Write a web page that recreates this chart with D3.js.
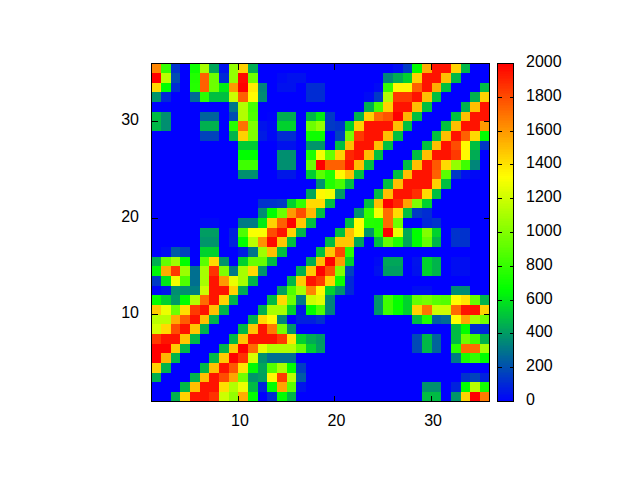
<!DOCTYPE html>
<html>
<head>
<meta charset="utf-8">
<style>html,body{margin:0;padding:0;background:#fff}svg{display:block}text{font-family:"Liberation Sans",Arial,sans-serif;font-size:16px;fill:#000}</style>
<script src="https://cdn.jsdelivr.net/npm/d3@7"></script>
</head>
<body>
<svg id="chart" width="640" height="480"></svg>
<script>
const xTicks = [10, 20, 30];
const yTicks = [10, 20, 30];
const colorTicks = [0, 200, 400, 600, 800, 1000, 1200, 1400, 1600, 1800, 2000];
const paletteStops = [0, 667, 1333, 2000];
const paletteColors = ["#0000ff", "#00ff00", "#ffff00", "#ff0000"];
// rows listed from the top of the map (y 35-36) to the bottom (y 1-2)
const rows = [
[1650,800,130,0,700,1100,435,45,1050,1450,450,0,0,0,0,0,0,0,0,0,0,0,0,0,0,35,150,667,1550,1950,1950,1450,480,0,0],
[2000,1150,200,0,750,1750,950,105,1050,1980,950,0,0,25,45,45,0,0,0,0,0,0,0,0,350,450,550,1450,1950,1950,1500,480,0,0,0],
[1430,667,115,0,760,1750,950,620,1600,2000,1380,350,0,45,45,0,115,115,0,0,0,0,0,25,800,1350,1350,1750,1950,1550,500,0,0,0,490],
[390,105,0,0,280,780,500,500,1200,1750,1340,365,0,0,0,0,115,115,0,0,0,0,25,150,1130,1850,1850,1950,1500,500,0,0,0,460,1450],
[0,0,0,0,0,0,0,0,305,1130,850,0,0,0,0,0,0,0,0,0,0,0,460,850,1450,1950,1950,1500,500,0,0,0,460,1500,1950],
[490,375,0,0,0,260,260,0,200,1130,870,0,10,450,450,0,470,620,150,0,0,470,1450,1720,1780,2000,1530,500,0,0,0,500,1500,1950,1950],
[480,375,0,0,0,460,460,0,760,1700,1000,50,25,550,550,0,950,1050,150,130,550,1450,1950,1950,1950,1500,500,0,0,0,500,1500,1950,1950,1600],
[0,0,0,0,0,175,175,0,470,1450,1000,70,20,115,115,0,700,700,0,175,970,1850,1950,1950,1500,500,0,0,0,500,1500,1950,1750,1430,667],
[0,0,0,0,0,0,0,0,0,530,530,0,0,45,45,0,390,390,0,500,1500,1950,1950,1500,500,0,0,0,500,1500,1950,1800,1350,500,150],
[0,0,0,0,0,0,0,0,0,667,667,0,0,375,375,0,740,1300,930,1450,1900,1950,1500,500,0,0,0,500,1500,1950,1950,1850,1350,450,0],
[0,0,0,0,0,0,0,0,0,830,830,0,0,375,375,0,950,2000,1750,1750,1950,1500,500,0,0,0,500,1500,1950,1770,1430,1050,830,350,0],
[0,0,0,0,0,0,0,0,0,380,380,0,0,60,60,0,535,900,750,1350,1500,500,0,0,0,500,1500,1950,1950,1750,900,150,45,20,0],
[0,0,0,0,0,0,0,0,0,0,0,0,0,0,0,0,0,380,750,850,500,0,0,0,500,1500,1950,1950,1950,1450,500,0,0,0,0],
[0,0,0,0,0,0,0,0,0,0,0,0,0,0,0,0,435,1350,1300,410,0,0,0,500,1500,1950,1950,1880,1430,500,0,0,0,0,0],
[0,0,0,0,0,0,0,0,0,0,0,130,130,150,550,800,1430,1430,500,0,0,0,500,1500,2000,1900,1580,1000,550,0,0,0,0,0,0],
[0,0,0,0,0,0,0,0,0,0,0,365,667,950,1600,1800,1520,500,0,0,0,390,800,1300,1720,1430,500,150,115,0,0,0,0,0,0],
[0,0,0,0,0,20,20,0,0,320,320,620,1450,1750,2000,1480,500,0,0,0,500,1330,760,750,1720,950,0,0,105,130,0,0,0,0,0],
[0,0,0,0,0,410,410,0,80,870,1320,1320,1800,1950,1450,470,0,0,0,500,1500,1330,390,770,2000,1280,445,667,1000,550,0,130,130,0,0],
[0,0,0,0,0,390,390,0,90,667,1150,1620,1980,1480,500,0,0,0,490,1480,1480,435,0,500,930,750,435,667,930,470,0,130,130,0,0],
[0,35,235,175,0,550,550,0,0,70,305,1080,1500,500,0,0,0,500,1480,1820,780,0,0,0,0,0,0,0,0,0,0,0,0,0,0],
[460,930,1080,667,0,900,1430,390,0,550,930,930,490,0,0,0,450,1500,2000,1600,550,0,0,25,435,435,0,50,550,470,0,35,35,0,0],
[655,1550,1850,1070,290,1100,1870,1000,320,1100,1430,390,0,0,0,460,1470,2000,1800,1000,175,0,0,45,410,410,0,45,550,470,0,35,35,0,0],
[150,600,1300,870,290,1100,1950,1600,1280,1100,470,0,0,0,480,1470,1950,1850,1450,700,105,0,0,0,0,0,0,0,0,0,0,0,0,0,0],
[10,50,375,375,330,1200,1950,1950,1450,445,0,0,0,420,870,1100,1650,1350,550,380,105,0,0,0,0,0,0,35,35,0,0,365,365,0,0],
[680,550,400,667,1130,1720,1950,1450,470,0,0,0,490,1430,950,320,1200,1250,340,0,0,0,0,390,830,680,550,930,970,900,880,1330,1400,930,470],
[1470,1280,950,1420,1850,1950,1500,470,0,0,0,460,1100,1100,550,60,667,870,340,0,0,0,0,390,830,680,550,1450,1700,1200,1200,1720,1950,1950,1450],
[1150,1150,1550,1760,1950,1500,470,0,0,0,460,1430,1340,350,0,80,80,125,0,0,0,0,0,0,0,0,0,490,750,245,280,1330,1570,1100,970],
[1220,1430,1800,1950,1480,460,0,0,0,480,1480,1950,1680,970,390,0,0,0,0,0,0,0,0,0,0,0,0,0,0,0,0,490,667,115,90],
[1850,1950,1950,1480,480,0,0,0,480,1480,1950,1950,1950,1850,1400,550,450,400,0,0,0,0,0,0,0,0,0,190,480,260,0,490,950,830,470],
[2000,2000,1470,480,0,0,0,470,1470,2000,1720,1270,1130,1130,1130,930,535,410,0,0,0,0,0,0,0,0,0,190,480,260,0,770,1720,1720,1100],
[2000,1530,470,0,0,0,480,1470,2000,1870,1230,380,290,290,290,0,0,0,0,0,0,0,0,0,0,0,0,0,0,0,0,320,730,800,667],
[1450,470,0,0,0,480,1500,1950,1770,1400,655,435,880,1100,667,160,0,0,0,0,0,0,0,0,0,0,0,0,0,0,0,0,0,0,0],
[460,0,0,0,470,1500,1950,1800,1570,960,390,420,1350,1850,1150,235,0,0,0,0,0,0,0,0,0,0,0,0,0,0,0,0,130,175,90],
[0,0,0,480,1500,1950,1950,1420,1130,1280,490,90,667,1570,900,50,0,0,0,0,0,0,0,0,0,0,0,0,380,380,0,90,667,1150,720],
[0,0,460,1450,1950,1950,1870,1200,1050,1550,667,0,115,667,470,0,0,0,0,0,0,0,0,0,0,0,0,0,490,490,0,390,1450,2000,1680]
];

const plot = {left: 151.5, right: 489.5, top: 63.5, bottom: 401.5};
const bar = {left: 497.5, right: 513.5};
const x = d3.scaleLinear().domain([1, 36]).range([plot.left, plot.right]);
const y = d3.scaleLinear().domain([1, 36]).range([plot.bottom, plot.top]);
const color = d3.scaleLinear().domain(paletteStops).range(paletteColors).clamp(true);
const barY = d3.scaleLinear().domain([0, 2000]).range([plot.bottom, plot.top]);
const svg = d3.select("#chart");

const cells = rows.flatMap((row, r) => row.map((v, c) => ({xv: c + 1, yv: 35 - r, v})));
svg.append("g").attr("shape-rendering", "crispEdges").selectAll("rect").data(cells).join("rect")
  .attr("x", d => x(d.xv)).attr("y", d => y(d.yv + 1))
  .attr("width", d => x(d.xv + 1) - x(d.xv)).attr("height", d => y(d.yv) - y(d.yv + 1))
  .attr("fill", d => color(d.v));

// colour bar
svg.append("g").attr("shape-rendering", "crispEdges").selectAll("rect")
  .data(d3.range(0, 2000, 10)).join("rect")
  .attr("x", bar.left).attr("width", bar.right - bar.left)
  .attr("y", d => barY(d + 10)).attr("height", d => barY(d) - barY(d + 10) + 0.5)
  .attr("fill", d => color(d + 5));

function styleAxis(g, drawLabels) {
  g.select(".domain").remove();
  g.selectAll("line").attr("stroke", "#000").attr("shape-rendering", "crispEdges");
  g.selectAll("text").attr("fill", "#000").style("font-size", "16px");
  if (!drawLabels) g.selectAll("text").remove();
}
svg.append("g").attr("transform", `translate(0,${plot.bottom})`)
  .call(d3.axisBottom(x).offset(0).tickValues(xTicks).tickSize(-6))
  .call(g => { styleAxis(g, true); g.selectAll("text").attr("y", 13).attr("dy", "0.71em").attr("dx", 1.5); });
svg.append("g").attr("transform", `translate(0,${plot.top})`)
  .call(d3.axisTop(x).offset(0).tickValues(xTicks).tickSize(-6)).call(g => styleAxis(g, false));
svg.append("g").attr("transform", `translate(${plot.left},0)`)
  .call(d3.axisLeft(y).offset(0).tickValues(yTicks).tickSize(-6))
  .call(g => { styleAxis(g, true); g.selectAll("text").attr("x", -12.5).attr("dy", 3.5); });
svg.append("g").attr("transform", `translate(${plot.right},0)`)
  .call(d3.axisRight(y).offset(0).tickValues(yTicks).tickSize(-6)).call(g => styleAxis(g, false));

svg.append("g").attr("transform", `translate(${bar.right},0)`)
  .call(d3.axisRight(barY).offset(0).tickValues(colorTicks).tickFormat(d3.format("d")).tickSize(-4))
  .call(g => { styleAxis(g, true); g.selectAll("text").attr("x", 12.5).attr("dy", 3.5); });
svg.append("g").attr("transform", `translate(${bar.left},0)`)
  .call(d3.axisLeft(barY).offset(0).tickValues(colorTicks).tickSize(-4)).call(g => styleAxis(g, false));

svg.append("rect").attr("x", plot.left).attr("y", plot.top)
  .attr("width", plot.right - plot.left).attr("height", plot.bottom - plot.top)
  .attr("fill", "none").attr("stroke", "#000").attr("shape-rendering", "crispEdges");
svg.append("rect").attr("x", bar.left).attr("y", plot.top)
  .attr("width", bar.right - bar.left).attr("height", plot.bottom - plot.top)
  .attr("fill", "none").attr("stroke", "#000").attr("shape-rendering", "crispEdges");
</script>
</body>
</html>
